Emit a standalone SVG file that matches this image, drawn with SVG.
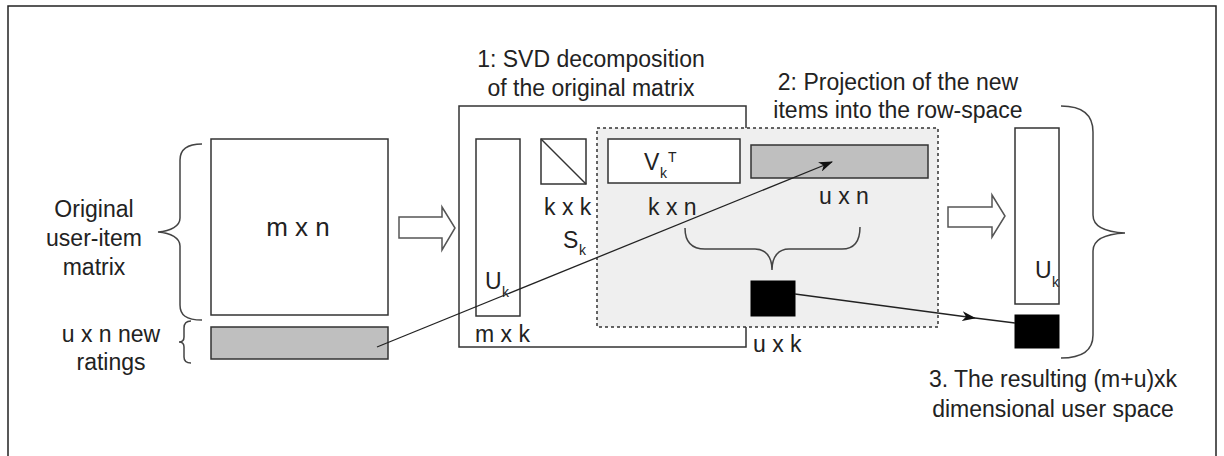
<svg xmlns="http://www.w3.org/2000/svg" width="1224" height="456" viewBox="0 0 1224 456">
<defs>
<style>
text{font-family:"Liberation Sans",Arial,sans-serif;font-size:23px;fill:#222}
.c{text-anchor:middle}
.sub{font-size:14px}
.box{fill:#fff;stroke:#333;stroke-width:1.5}
.gray{fill:#bfbfbf;stroke:#333;stroke-width:1.5}
.blk{fill:#000;stroke:#000;stroke-width:1}
.brace{fill:none;stroke:#444;stroke-width:1.5}
.hollow{fill:#fff;stroke:#555;stroke-width:1.5}
.line{fill:none;stroke:#222;stroke-width:1.3}
</style>
<marker id="ah" viewBox="0 0 14 10" refX="13" refY="5" markerWidth="14" markerHeight="10" markerUnits="userSpaceOnUse" orient="auto">
<path d="M0,0 L14,5 L0,10 L4,5 Z" fill="#111"/>
</marker>
</defs>
<rect x="8" y="6" width="1208" height="460" fill="#fff" stroke="#222" stroke-width="1.5"/>

<g id="original-matrix">
<rect class="box" x="211" y="139" width="177" height="176"/>
<text class="c" x="298" y="236" style="font-size:26px">m x n</text>
</g>
<g id="new-ratings">
<rect class="gray" x="211" y="327" width="177" height="32"/>
</g>
<g id="label-original">
<path class="brace" d="M202,144 C186,144 180,150 180,160 L180,218 C180,226 171,231 158,232 C171,233 180,238 180,246 L180,305 C180,315 186,320 202,320"/>
<text class="c" x="94" y="217">Original</text>
<text class="c" x="94" y="246">user-item</text>
<text class="c" x="94" y="275">matrix</text>
</g>
<g id="label-new">
<path class="brace" d="M191,321 C186,321 184,324 184,328 L184,337 C184,340 182,342 179,342 C182,342 184,344 184,347 L184,357 C184,361 186,363 191,363"/>
<text class="c" x="111" y="342">u x n new</text>
<text class="c" x="111" y="370">ratings</text>
</g>
<g id="arrow1">
<polygon class="hollow" points="399,217 442,217 442,207 455,228 442,250 442,238 399,238"/>
</g>

<g id="svd">
<rect class="box" x="459" y="106" width="287" height="241"/>
<text class="c" x="591" y="67">1: SVD decomposition</text>
<text class="c" x="591" y="96">of the original matrix</text>
</g>
<g id="projection">
<rect x="597" y="128" width="341" height="199" fill="#efefef" stroke="#333" stroke-width="1.5" stroke-dasharray="3,3"/>
<text class="c" x="898" y="90">2: Projection of the new</text>
<text class="c" x="898" y="118">items into the row-space</text>
</g>
<g id="Uk">
<rect class="box" x="476" y="139" width="44" height="177"/>
<text x="485" y="289">U</text><text class="sub" x="502" y="297">k</text>
<text x="475" y="342">m x k</text>
</g>
<g id="Sk">
<rect class="box" x="541" y="139" width="45" height="45"/>
<line x1="541" y1="139" x2="586" y2="184" stroke="#333" stroke-width="1.5"/>
<text x="544" y="215">k x k</text>
<text x="563" y="248">S</text><text class="sub" x="579" y="255">k</text>
</g>
<g id="VkT">
<rect class="box" x="608" y="139" width="132" height="44"/>
<text x="644" y="170">V</text><text class="sub" x="660" y="178">k</text><text class="sub" x="668" y="162">T</text>
<text x="648" y="215">k x n</text>
</g>
<g id="uxn">
<rect class="gray" x="751" y="145" width="177" height="33"/>
<text x="819" y="204">u x n</text>
<path class="brace" d="M685,228 C685,242 692,249 705,249 L755,249 C765,249 772,256 772,270 C772,256 779,249 789,249 L842,249 C855,249 860,240 860,227"/>
</g>
<g id="uxk">
<rect class="blk" x="751" y="281" width="44" height="35"/>
<text x="753" y="352">u x k</text>
</g>
<g id="arrow2">
<polygon class="hollow" points="948,207 992,207 992,195 1005,216 992,237 992,227 948,227"/>
</g>
<g id="result">
<rect class="box" x="1015" y="128" width="44" height="176"/>
<text x="1035" y="278">U</text><text class="sub" x="1052" y="287">k</text>
<rect class="blk" x="1015" y="315" width="44" height="33"/>
<path class="brace" d="M1061,106 C1083,106 1093,115 1093,132 L1093,215 C1093,226 1105,232 1125,233 C1105,234 1093,240 1093,251 L1093,335 C1093,350 1083,358 1061,358"/>
<text class="c" x="1053" y="387">3. The resulting (m+u)xk</text>
<text class="c" x="1053" y="417">dimensional user space</text>
</g>

<g id="connectors">
<line class="line" x1="377" y1="347" x2="832" y2="162" marker-end="url(#ah)"/>
<line class="line" x1="795" y1="294" x2="975" y2="318" marker-end="url(#ah)"/>
<line class="line" x1="975" y1="318" x2="1015" y2="323"/>
</g>
</svg>
